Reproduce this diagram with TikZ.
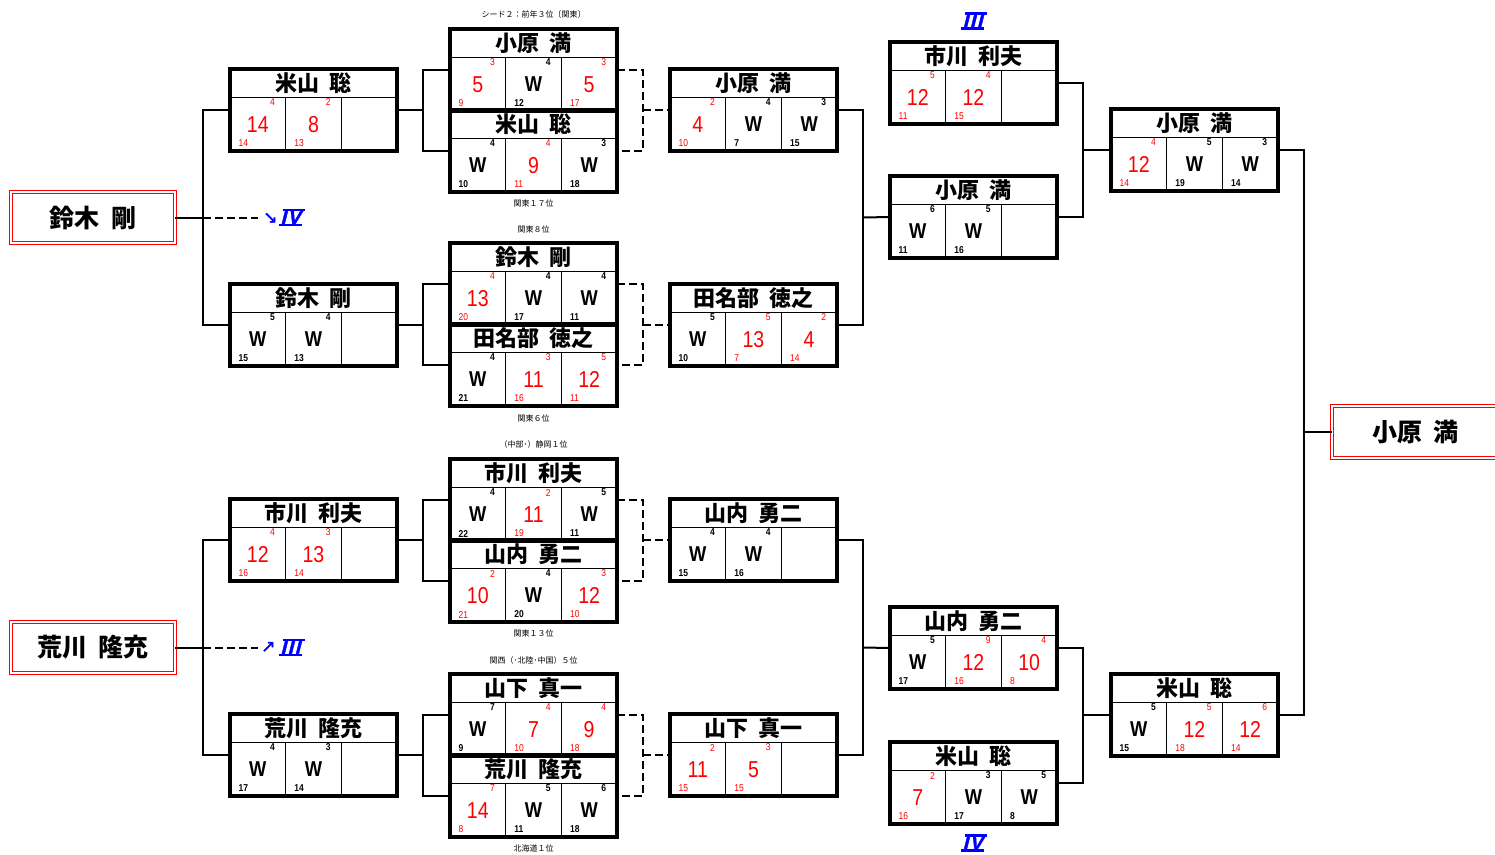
\documentclass[tikz,border=0pt]{standalone}
\usepackage{fontspec}
\usetikzlibrary{calc}
\newfontfamily\jp{Noto Sans CJK JP}
\newfontfamily\scf[FakeStretch=0.85]{Liberation Sans}
\newfontfamily\romf[FakeSlant=0.25,FakeBold=2.2]{Liberation Sans}
\newfontfamily\dvs[FakeBold=1.5]{DejaVu Sans}
\newcommand{\nsp}{\kern0.45em}
\definecolor{rd}{RGB}{255,0,0}
\definecolor{bl}{RGB}{0,0,255}
\newcommand{\matchb}[4]{%
 \node[boxf] (#1) at (#2,#3) {};
 \draw[inl] ($(#1.north west)+(0,28)$) -- ($(#1.north east)+(0,28)$);
 \draw[inl] ($(#1.north west)+(55.67,28)$) -- ($(#1.south west)+(55.67,0)$);
 \draw[inl] ($(#1.north west)+(111.33,28)$) -- ($(#1.south west)+(111.33,0)$);
 \node[nm] (#1n) at ($(#1.north)+(0,14.5)$) {#4};
}
\newcommand{\scW}[4]{%
 \node[wt] (#1w#2) at ($(#1.north west)+({55.67*#2+27.8},55.5)$) {W};
 \node[smb] (#1t#2) at ($(#1.north west)+({55.67*#2+42.5},33.5)$) {#3};
 \node[smb,anchor=west] (#1b#2) at ($(#1.north west)+({55.67*#2+8.5},74.5)$) {#4};
}
\newcommand{\scL}[5]{%
 \node[lt] (#1w#2) at ($(#1.north west)+({55.67*#2+27.8},55.5)$) {#3};
 \node[smr] (#1t#2) at ($(#1.north west)+({55.67*#2+42.5},33.5)$) {#4};
 \node[smr,anchor=west] (#1b#2) at ($(#1.north west)+({55.67*#2+8.5},74.5)$) {#5};
}
\newcommand{\rbars}[1]{%
 \draw[rbar] ($(#1.north west)+(3.6,-0.8)$) -- ($(#1.north east)+(3.6,-0.8)$);
 \draw[rbar] ($(#1.south west)+(0,0.8)$) -- ($(#1.south east)+(0,0.8)$);
}
\begin{document}
\begin{tikzpicture}[x=1pt,y=-1pt,
 boxf/.style={draw, line width=3.2pt, minimum width=167pt, minimum height=82pt, anchor=north west, inner sep=0pt, outer sep=0pt},
 inl/.style={line width=0.9pt},
 nm/.style={font=\jp\bfseries\fontsize{22}{22}\selectfont, inner sep=0pt},
 wt/.style={font=\scf\bfseries\fontsize{21.5}{21.5}\selectfont, inner sep=0pt},
 lt/.style={font=\scf\fontsize{23}{23}\selectfont, text=rd, inner sep=0pt},
 smb/.style={font=\scf\bfseries\fontsize{10}{10}\selectfont, inner sep=0pt},
 smr/.style={font=\scf\fontsize{10}{10}\selectfont, text=rd, inner sep=0pt},
 con/.style={line width=2pt},
 dcon/.style={line width=2pt, dash pattern=on 8pt off 4pt},
 seedb/.style={draw=rd, double=white, double distance=1.8pt, line width=0.9pt, anchor=north west, minimum width=164.4pt, minimum height=51.4pt, inner sep=0pt, outer sep=0pt},
 seedt/.style={font=\jp\bfseries\fontsize{25}{25}\selectfont, inner sep=0pt},
 lbl/.style={font=\jp\fontsize{8}{8}\selectfont, inner sep=0pt},
 rom/.style={font=\romf\bfseries\fontsize{19}{19}\selectfont, text=bl, inner sep=0pt, inner xsep=1.4pt},
 rbar/.style={draw=bl, line width=2.4pt},
 arw/.style={font=\dvs\fontsize{17}{17}\selectfont, text=bl, inner sep=0pt}
]
\useasboundingbox (0,0) rectangle (1495,854);
\clip (0,0) rectangle (1495,854);
\fill[white] (0,0) rectangle (1495,854);

% seed boxes
\node[seedb] (S1) at (10.8,191.8) {};
\node[seedt] (S1n) at (S1.center) {鈴木\nsp 剛};
\node[seedb] (S2) at (10.8,621.8) {};
\node[seedt] (S2n) at (S2.center) {荒川\nsp 隆充};
\node[seedb, minimum width=220pt, minimum height=52.4pt] (F) at (1331.8,405.8) {};
\node[seedt] (Fn) at ($(F.west)+(84,0)$) {小原\nsp 満};

% column 1
\matchb{B1}{230}{69}{米山\nsp 聡}
\scL{B1}{0}{14}{4}{14} \scL{B1}{1}{8}{2}{13}
\matchb{B2}{230}{284}{鈴木\nsp 剛}
\scW{B2}{0}{5}{15} \scW{B2}{1}{4}{13}
\matchb{B3}{230}{499}{市川\nsp 利夫}
\scL{B3}{0}{12}{4}{16} \scL{B3}{1}{13}{3}{14}
\matchb{B4}{230}{714}{荒川\nsp 隆充}
\scW{B4}{0}{4}{17} \scW{B4}{1}{3}{14}

% column 2 (pairs)
\matchb{P1a}{450}{29}{小原\nsp 満}
\scL{P1a}{0}{5}{3}{9} \scW{P1a}{1}{4}{12} \scL{P1a}{2}{5}{3}{17}
\matchb{P1b}{450}{110}{米山\nsp 聡}
\scW{P1b}{0}{4}{10} \scL{P1b}{1}{9}{4}{11} \scW{P1b}{2}{3}{18}
\matchb{P2a}{450}{243}{鈴木\nsp 剛}
\scL{P2a}{0}{13}{4}{20} \scW{P2a}{1}{4}{17} \scW{P2a}{2}{4}{11}
\matchb{P2b}{450}{324}{田名部\nsp 徳之}
\scW{P2b}{0}{4}{21} \scL{P2b}{1}{11}{3}{16} \scL{P2b}{2}{12}{5}{11}
\matchb{P3a}{450}{459}{市川\nsp 利夫}
\scW{P3a}{0}{4}{22} \scL{P3a}{1}{11}{2}{19} \scW{P3a}{2}{5}{11}
\matchb{P3b}{450}{540}{山内\nsp 勇二}
\scL{P3b}{0}{10}{2}{21} \scW{P3b}{1}{4}{20} \scL{P3b}{2}{12}{3}{10}
\matchb{P4a}{450}{674}{山下\nsp 真一}
\scW{P4a}{0}{7}{9} \scL{P4a}{1}{7}{4}{10} \scL{P4a}{2}{9}{4}{18}
\matchb{P4b}{450}{755}{荒川\nsp 隆充}
\scL{P4b}{0}{14}{7}{8} \scW{P4b}{1}{5}{11} \scW{P4b}{2}{6}{18}

% column 3
\matchb{C1}{670}{69}{小原\nsp 満}
\scL{C1}{0}{4}{2}{10} \scW{C1}{1}{4}{7} \scW{C1}{2}{3}{15}
\matchb{C2}{670}{284}{田名部\nsp 徳之}
\scW{C2}{0}{5}{10} \scL{C2}{1}{13}{5}{7} \scL{C2}{2}{4}{2}{14}
\matchb{C3}{670}{499}{山内\nsp 勇二}
\scW{C3}{0}{4}{15} \scW{C3}{1}{4}{16}
\matchb{C4}{670}{714}{山下\nsp 真一}
\scL{C4}{0}{11}{2}{15} \scL{C4}{1}{5}{3}{15}

% column 4
\matchb{D1}{890}{42}{市川\nsp 利夫}
\scL{D1}{0}{12}{5}{11} \scL{D1}{1}{12}{4}{15}
\matchb{D2}{890}{176}{小原\nsp 満}
\scW{D2}{0}{6}{11} \scW{D2}{1}{5}{16}
\matchb{D3}{890}{607}{山内\nsp 勇二}
\scW{D3}{0}{5}{17} \scL{D3}{1}{12}{9}{16} \scL{D3}{2}{10}{4}{8}
\matchb{D4}{890}{742}{米山\nsp 聡}
\scL{D4}{0}{7}{2}{16} \scW{D4}{1}{3}{17} \scW{D4}{2}{5}{8}

% column 5
\matchb{E1}{1111}{109}{小原\nsp 満}
\scL{E1}{0}{12}{4}{14} \scW{E1}{1}{5}{19} \scW{E1}{2}{3}{14}
\matchb{E2}{1111}{674}{米山\nsp 聡}
\scW{E2}{0}{5}{15} \scL{E2}{1}{12}{5}{18} \scL{E2}{2}{12}{6}{14}

% small labels
\node[lbl] (L1) at (533.5,14.5) {シード２：前年３位〔関東〕};
\node[lbl] (L2) at (533.5,203) {関東１７位};
\node[lbl] (L3) at (533.5,229) {関東８位};
\node[lbl] (L4) at (533.5,418.5) {関東６位};
\node[lbl] (L5) at (533.5,444.5) {（中部･）静岡１位};
\node[lbl] (L6) at (533.5,633) {関東１３位};
\node[lbl] (L7) at (533.5,660.5) {関西（･北陸･中国）５位};
\node[lbl] (L8) at (533.5,848.5) {北海道１位};

% blue labels
\node[arw, anchor=west] (la) at (263,218) {↘};
\node[rom, anchor=west] (ra) at (279,217.5) {I\kern1.6pt V};
\rbars{ra}
\node[arw, anchor=west] (lb) at (261,647) {↗};
\node[rom, anchor=west] (rb) at (279,647.5) {I\kern1.8pt I\kern1.8pt I};
\rbars{rb}
\node[rom] (lc) at (972.5,21) {I\kern1.8pt I\kern1.8pt I};
\rbars{lc}
\node[rom] (ld) at (972.5,843) {I\kern1.6pt V};
\rbars{ld}

% connectors: seeds
\coordinate (ja) at (203,217.5);
\coordinate (da) at (258,217.5);
\draw[con] (B1.west) -| (ja) |- (B2.west);
\draw[con] (S1.east) -- (ja);
\draw[dcon] (ja) -- (da);
\coordinate (jb) at (203,647.5);
\coordinate (db) at (258,647.5);
\draw[con] (B3.west) -| (jb) |- (B4.west);
\draw[con] (S2.east) -- (jb);
\draw[dcon] (jb) -- (db);

% col1 -> pairs
\coordinate (ka) at (423,110);
\draw[con] (B1.east) -- (ka);
\draw[con] (P1a.west) -| (ka) |- (P1b.west);
\coordinate (kb) at (423,325);
\draw[con] (B2.east) -- (kb);
\draw[con] (P2a.west) -| (kb) |- (P2b.west);
\coordinate (kc) at (423,540);
\draw[con] (B3.east) -- (kc);
\draw[con] (P3a.west) -| (kc) |- (P3b.west);
\coordinate (kd) at (423,755);
\draw[con] (B4.east) -- (kd);
\draw[con] (P4a.west) -| (kd) |- (P4b.west);

% pairs -> col3 (dashed)
\coordinate (ma) at (643,110);
\draw[dcon] (P1a.east) -| (ma) |- (P1b.east);
\draw[dcon] (ma) -- (C1.west);
\coordinate (mb) at (643,325);
\draw[dcon] (P2a.east) -| (mb) |- (P2b.east);
\draw[dcon] (mb) -- (C2.west);
\coordinate (mc) at (643,540);
\draw[dcon] (P3a.east) -| (mc) |- (P3b.east);
\draw[dcon] (mc) -- (C3.west);
\coordinate (md) at (643,755);
\draw[dcon] (P4a.east) -| (md) |- (P4b.east);
\draw[dcon] (md) -- (C4.west);

% col3 -> col4
\coordinate (na) at (863,217.5);
\draw[con] (C1.east) -| (na) |- (C2.east);
\draw[con] (na) -- (D2.west);
\coordinate (nb) at (863,647.5);
\draw[con] (C3.east) -| (nb) |- (C4.east);
\draw[con] (nb) -- (D3.west);

% col4 -> col5
\coordinate (oa) at (1083,150);
\draw[con] (D1.east) -| (oa) |- (D2.east);
\draw[con] (oa) -- (E1.west);
\coordinate (ob) at (1083,715);
\draw[con] (D3.east) -| (ob) |- (D4.east);
\draw[con] (ob) -- (E2.west);

% final
\coordinate (fa) at (1304,432);
\draw[con] (E1.east) -| (fa) |- (E2.east);
\draw[con] (fa) -- (F.west);
\end{tikzpicture}
\end{document}
